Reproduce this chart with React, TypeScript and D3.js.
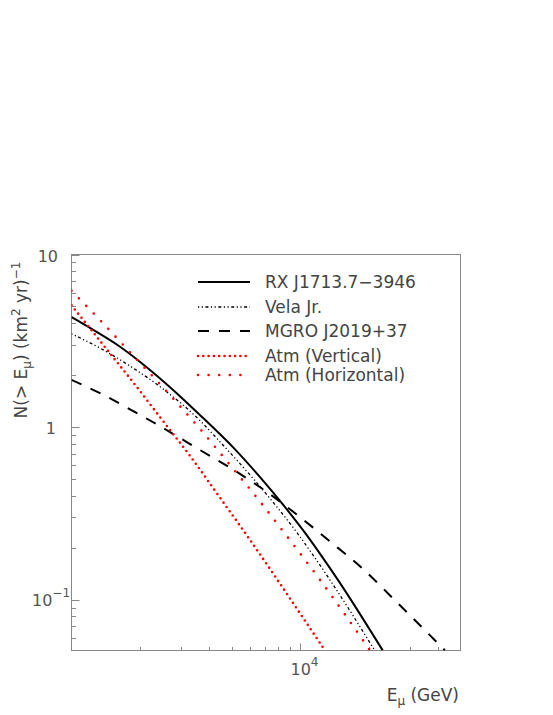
import { useMemo } from "react";
import * as d3 from "d3";

// values (E in GeV, N in (km^2 yr)^-1)
const rxEnergy = [1000, 1270, 1600, 2090, 2740, 3580, 5180, 6660, 8410, 10280, 12160, 14620, 22860];
const rxFlux = [4.34, 3.6, 2.97, 2.27, 1.67, 1.2, 0.743, 0.513, 0.3543, 0.252, 0.185, 0.1295, 0.0509];

const velaEnergy = [1000, 1309, 1832, 2561, 3579, 4497, 6139, 7762, 9490, 11230, 13490, 21090];
const velaFlux = [3.474, 2.906, 2.226, 1.631, 1.116, 0.81, 0.513, 0.3543, 0.2523, 0.185, 0.1295, 0.0509];

const mgroEnergy = [1000, 1332, 1801, 2435, 3640, 5443, 7359, 9950, 13450, 18190, 27200, 42760];
const mgroFlux = [1.88, 1.573, 1.269, 1.012, 0.737, 0.536, 0.4088, 0.301, 0.2179, 0.1561, 0.0928, 0.0509];

const atmVertEnergy = [1000, 1205, 1473, 1832, 2435, 3293, 4452, 6018, 8137, 9950, 12700];
const atmVertFlux = [5.07, 3.73, 2.672, 1.864, 1.143, 0.681, 0.39, 0.2222, 0.124, 0.0835, 0.0516];

const atmHorEnergy = [1000, 1332, 1832, 2435, 3640, 4922, 6656, 9000, 12170, 15640, 19970];
const atmHorFlux = [6.16, 4.17, 2.647, 1.774, 0.976, 0.604, 0.3703, 0.2211, 0.1304, 0.0821, 0.0516];

const legendLabels = ["RX J1713.7\u22123946", "Vela Jr.", "MGRO J2019+37", "Atm (Vertical)", "Atm (Horizontal)"];

const W = 553;
const H = 715;
const left = 71.5;
const right = 460.5;
const top = 254.5;
const bottom = 650.5;
const FONT = "DejaVu Sans";

const styles = [
  { color: "#000", width: 2, dash: undefined, cap: "butt" },
  { color: "#000", width: 1.3, dash: "1.2 2.5 1.2 2.5 3 2.5", cap: "butt" },
  { color: "#000", width: 2, dash: "11 10", cap: "butt" },
  { color: "#ff0000", width: 2.6, dash: "0 5.3", cap: "round" },
  { color: "#ff0000", width: 2.6, dash: "0 10.6", cap: "round" },
];

export default function App() {
  const x = d3.scaleLog().domain([1000, 50000]).range([left, right]);
  const y = d3.scaleLog().domain([0.0508, 10]).range([bottom, top]);

  const series = [
    [rxEnergy, rxFlux],
    [velaEnergy, velaFlux],
    [mgroEnergy, mgroFlux],
    [atmVertEnergy, atmVertFlux],
    [atmHorEnergy, atmHorFlux],
  ];

  const line = d3
    .line<[number, number]>()
    .x((d) => x(d[0]))
    .y((d) => y(d[1]))
    .curve(d3.curveMonotoneX);

  const paths = series.map(([e, n]) => line(e.map((v, i) => [v, n[i]]) as [number, number][]) || "");

  // tick positions
  const yTicks = useMemo(() => {
    const t: { v: number; major: boolean }[] = [];
    [0.01, 0.1, 1].forEach((dec) => {
      for (let k = 1; k <= 9; k++) {
        const v = dec * k;
        if (v >= 0.0508 && v <= 10) t.push({ v, major: k === 1 });
      }
    });
    t.push({ v: 10, major: true });
    return t;
  }, []);
  const xTicks = useMemo(() => {
    const t: { v: number; major: boolean }[] = [];
    [1000, 10000].forEach((dec) => {
      for (let k = 1; k <= 9; k++) {
        const v = dec * k;
        if (v > 1000 && v < 50000) t.push({ v, major: k === 1 });
      }
    });
    return t;
  }, []);

  const legendY = [282, 307, 331, 356, 375];

  return (
    <svg width={W} height={H} style={{ position: "absolute", left: 0, top: 0, background: "#fff" }} fontFamily={FONT}>
      <defs>
        <clipPath id="plot">
          <rect x={left} y={top} width={right - left} height={bottom - top} />
        </clipPath>
      </defs>
      <rect x={0} y={0} width={W} height={H} fill="#fff" />

      {/* frame */}
      <rect x={left} y={top} width={right - left} height={bottom - top} fill="none" stroke="#888" strokeWidth={1} />

      {yTicks.map((t, i) => (
        <line
          key={"y" + i}
          x1={left}
          x2={left + (t.major ? 8 : 4.5)}
          y1={Math.round(y(t.v)) + 0.5}
          y2={Math.round(y(t.v)) + 0.5}
          stroke="#888"
          strokeWidth={1}
        />
      ))}
      {xTicks.map((t, i) => (
        <line
          key={"x" + i}
          x1={Math.round(x(t.v)) + 0.5}
          x2={Math.round(x(t.v)) + 0.5}
          y1={bottom}
          y2={bottom - (t.major ? 7 : 3.5)}
          stroke="#888"
          strokeWidth={1}
        />
      ))}

      {/* curves */}
      <g clipPath="url(#plot)">
        {paths.map((d, i) => (
          <path
            key={i}
            d={d}
            fill="none"
            stroke={styles[i].color}
            strokeWidth={styles[i].width}
            strokeDasharray={styles[i].dash}
            strokeLinecap={styles[i].cap as any}
          />
        ))}
      </g>

      {/* legend */}
      {legendLabels.map((lab, i) => (
        <g key={lab}>
          <line
            x1={198}
            x2={250}
            y1={legendY[i]}
            y2={legendY[i]}
            stroke={styles[i].color}
            strokeWidth={styles[i].width}
            strokeDasharray={styles[i].dash}
            strokeLinecap={styles[i].cap as any}
          />
          <text x={265} y={legendY[i] + 5.5} fontSize={17} fill="#444">
            {lab}
          </text>
        </g>
      ))}

      {/* y tick labels */}
      <text x={58} y={y(10) + 7} fontSize={16} fill="#555" textAnchor="end">
        10
      </text>
      <text x={56} y={y(1) + 6.5} fontSize={16} fill="#555" textAnchor="end">
        1
      </text>
      <text x={32} y={y(0.1) + 6} fontSize={16} fill="#555">
        10
        <tspan fontSize={12} dy={-9}>
          {"\u22121"}
        </tspan>
      </text>

      {/* x tick label */}
      <text x={x(10000) - 10} y={675} fontSize={16} fill="#555">
        10
        <tspan fontSize={12} dy={-9}>
          4
        </tspan>
      </text>

      {/* axis titles */}
      <text x={459} y={701} fontSize={17} fill="#444" textAnchor="end">
        E
        <tspan fontSize={12} dy={4}>
          {"\u03bc"}
        </tspan>
        <tspan dy={-4}> (GeV)</tspan>
      </text>
      <text transform="translate(26.5,340) rotate(-90)" fontSize={17} fill="#444" textAnchor="middle">
        {"N(> E"}
        <tspan fontSize={12} dy={4}>
          {"\u03bc"}
        </tspan>
        <tspan dy={-4}>{") (km"}</tspan>
        <tspan fontSize={12} dy={-7}>
          2
        </tspan>
        <tspan dy={7}>{" yr)"}</tspan>
        <tspan fontSize={12} dy={-7}>
          {"\u22121"}
        </tspan>
      </text>
    </svg>
  );
}
